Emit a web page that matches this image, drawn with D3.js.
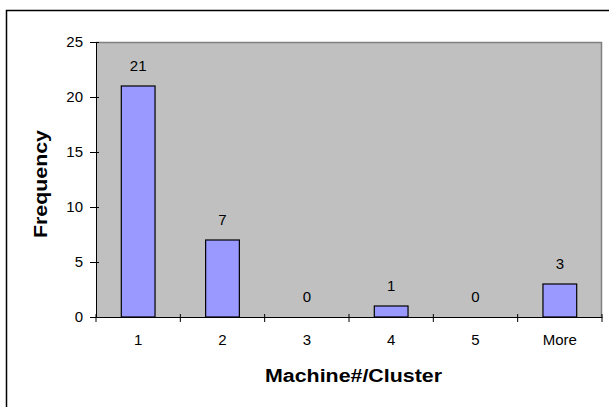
<!DOCTYPE html>
<html>
<head>
<meta charset="utf-8">
<script src="https://cdn.jsdelivr.net/npm/d3@7"></script>
<style>
  html, body { margin: 0; padding: 0; background: #fff; }
  svg { display: block; }
  text { font-family: Arial, "Liberation Sans", sans-serif; fill: #000; }
</style>
</head>
<body>
<script>
const categories = ["1", "2", "3", "4", "5", "More"];
const frequency = [21, 7, 0, 1, 0, 3];
const yTicks = [0, 5, 10, 15, 20, 25];
const xTitle = "Machine#/Cluster";
const yTitle = "Frequency";

const W = 609, H = 407;
const plot = { left: 96, top: 42, right: 602, bottom: 317 };

const svg = d3.select("body").append("svg").attr("width", W).attr("height", H);

// outer chart frame (top & left visible)
svg.append("rect")
  .attr("x", 6.5).attr("y", 10.5)
  .attr("width", 620).attr("height", 420)
  .attr("fill", "none").attr("stroke", "#000").attr("stroke-width", 1.5);

const xBand = d3.scaleBand().domain(categories).range([plot.left, plot.right]);
const y = d3.scaleLinear().domain([0, 25]).range([plot.bottom, plot.top]);

// plot area
svg.append("rect")
  .attr("x", plot.left).attr("y", plot.top)
  .attr("width", plot.right - plot.left).attr("height", plot.bottom - plot.top)
  .attr("fill", "#C0C0C0");
svg.append("path")
  .attr("d", `M${plot.left},${plot.top + 0.5}H${plot.right - 0.5}V${plot.bottom}`)
  .attr("fill", "none").attr("stroke", "#808080").attr("stroke-width", 1.5);

// bars
const barW = xBand.bandwidth() * 0.4;
svg.selectAll("rect.bar").data(frequency).enter().append("rect")
  .attr("class", "bar")
  .attr("x", (d, i) => xBand(categories[i]) + (xBand.bandwidth() - barW) / 2)
  .attr("y", d => y(d))
  .attr("width", barW)
  .attr("height", d => y(0) - y(d))
  .attr("fill", "#9999FF").attr("stroke", "#000").attr("stroke-width", 1.2);

// data labels
svg.selectAll("text.lbl").data(frequency).enter().append("text")
  .attr("class", "lbl")
  .attr("x", (d, i) => xBand(categories[i]) + xBand.bandwidth() / 2)
  .attr("y", d => y(d) - 15)
  .attr("text-anchor", "middle")
  .style("font-size", "15px")
  .text(d => d);

// y axis
const yAxis = svg.append("g").attr("transform", `translate(${plot.left},0)`)
  .call(d3.axisLeft(y).tickValues(yTicks).tickSize(6).tickSizeOuter(0).tickPadding(7));
yAxis.selectAll(".tick line").attr("x2", -6).attr("x1", 3).attr("stroke", "#000");
yAxis.select(".domain").attr("stroke", "#000");
yAxis.selectAll("text").style("font-size", "15px").style("font-family", "Arial, 'Liberation Sans', sans-serif");

// x axis
const xAxis = svg.append("g").attr("transform", `translate(0,${plot.bottom})`)
  .call(d3.axisBottom(xBand).tickSize(0).tickSizeOuter(0).tickPadding(17));
xAxis.select(".domain").attr("stroke", "#000");
xAxis.selectAll("text").style("font-size", "15px").style("font-family", "Arial, 'Liberation Sans', sans-serif");
// boundary ticks between categories
const bounds = categories.map(c => xBand(c)).concat([plot.right]);
svg.append("g").selectAll("line").data(bounds).enter().append("line")
  .attr("x1", d => d).attr("x2", d => d)
  .attr("y1", plot.bottom - 3).attr("y2", plot.bottom + 5)
  .attr("stroke", "#000");

// axis titles
svg.append("text")
  .attr("x", 353.5).attr("y", 382)
  .attr("text-anchor", "middle")
  .attr("textLength", 177).attr("lengthAdjust", "spacingAndGlyphs")
  .style("font-size", "18px").style("font-weight", "bold")
  .text(xTitle);

svg.append("text")
  .attr("transform", `translate(47,184) rotate(-90)`)
  .attr("text-anchor", "middle")
  .attr("textLength", 108).attr("lengthAdjust", "spacingAndGlyphs")
  .style("font-size", "18px").style("font-weight", "bold")
  .text(yTitle);
</script>
</body>
</html>
